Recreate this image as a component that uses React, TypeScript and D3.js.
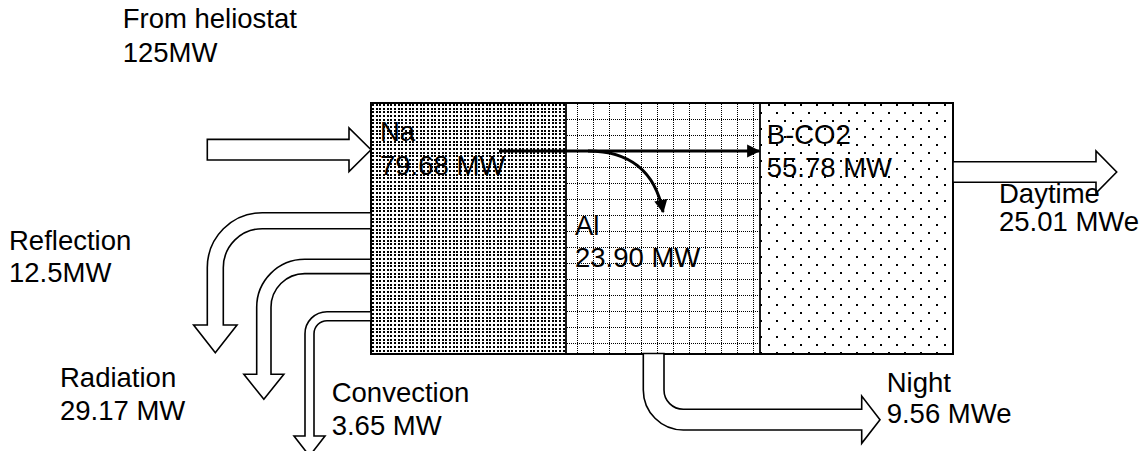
import React from "react";
import * as d3 from "d3";

// ---- data ----
const flowNames = ["From heliostat", "Reflection", "Radiation", "Convection", "Daytime", "Night"];
const flowValues = ["125MW", "12.5MW", "29.17 MW", "3.65 MW", "25.01 MWe", "9.56 MWe"];
const stageNames = ["Na", "B-CO2", "Al"];
const stageValues = ["79.68 MW", "55.78 MW", "23.90 MW"];

const W = 1141;
const H = 451;
const FONT = "'Liberation Sans', Arial, Helvetica, sans-serif";
const FS = 27.5;

// layout
const box = { x0: 371, x1: 953, y0: 103, y1: 354, d1: 566, d2: 760 };

function blockArrowRight(x0: number, x1: number, cy: number, sw: number, hx: number, hh: number) {
  const p = d3.path();
  p.moveTo(x0, cy - sw / 2);
  p.lineTo(hx, cy - sw / 2);
  p.lineTo(hx, cy - hh / 2);
  p.lineTo(x1, cy);
  p.lineTo(hx, cy + hh / 2);
  p.lineTo(hx, cy + sw / 2);
  p.lineTo(x0, cy + sw / 2);
  p.closePath();
  return p.toString();
}

// bend: horizontal from box left, curving down
function bendDown(bx: number, yTop: number, xo: number, w: number, R: number, ys: number, hw: number, yt: number) {
  const xc = xo + w / 2;
  return [
    `M${bx},${yTop}`,
    `L${xo + R},${yTop}`,
    `A${R},${R} 0 0 0 ${xo},${yTop + R}`,
    `L${xo},${ys}`,
    `L${xc - hw},${ys}`,
    `L${xc},${yt}`,
    `L${xc + hw},${ys}`,
    `L${xo + w},${ys}`,
    `L${xo + w},${yTop + R}`,
    `A${R - w},${R - w} 0 0 1 ${xo + R},${yTop + w}`,
    `L${bx},${yTop + w}`,
    "Z",
  ].join(" ");
}

function bendRight(yb: number, xl: number, w: number, R: number, yBottom: number, hx: number, hh: number, tipX: number) {
  const cx = xl + R;
  const cy = yBottom - R;
  const cyc = yBottom - w / 2;
  return [
    `M${xl},${yb}`,
    `L${xl},${cy}`,
    `A${R},${R} 0 0 0 ${cx},${yBottom}`,
    `L${hx},${yBottom}`,
    `L${hx},${cyc + hh / 2}`,
    `L${tipX},${cyc}`,
    `L${hx},${cyc - hh / 2}`,
    `L${hx},${yBottom - w}`,
    `L${cx},${yBottom - w}`,
    `A${R - w},${R - w} 0 0 1 ${xl + w},${cy}`,
    `L${xl + w},${yb}`,
    "Z",
  ].join(" ");
}

function Label({ x, y, lines }: { x: number; y: number[]; lines: string[] }) {
  return (
    <g>
      {lines.map((t, i) => (
        <text key={i} x={x} y={y[i]} fontFamily={FONT} fontSize={FS} fill="#000">
          {t}
        </text>
      ))}
    </g>
  );
}

export default function App() {
  const gx = d3.range(0, 16, 2);
  const naDots = [0, 4, 7];
  const curve = d3.path();
  curve.moveTo(588, 151);
  curve.bezierCurveTo(628, 151, 655, 170, 663, 212);

  return (
    <svg width={W} height={H} style={{ position: "absolute", left: 0, top: 0, background: "#fff" }}>
      <defs>
        <pattern id="pNa" patternUnits="userSpaceOnUse" x={372} y={104} width={11} height={11}>
          {naDots.map((a) =>
            naDots.map((b) => (
              <rect key={a + "-" + b} x={a} y={b} width={2} height={2} fill="#000" shapeRendering="crispEdges" />
            ))
          )}
        </pattern>
        <pattern id="pAl" patternUnits="userSpaceOnUse" x={577} y={103} width={16} height={16}>
          {gx.map((v, i) => (
            <rect key={"h" + i} x={v} y={0} width={1} height={1} fill="#000" shapeRendering="crispEdges" />
          ))}
          {gx.map((v, i) => (
            <rect key={"v" + i} x={0} y={v + 1} width={1} height={1} fill="#000" shapeRendering="crispEdges" />
          ))}
        </pattern>
        <pattern id="pCO2" patternUnits="userSpaceOnUse" x={944} y={136} width={16} height={16}>
          <rect x={0} y={0} width={2} height={2} fill="#000" shapeRendering="crispEdges" />
          <rect x={8} y={8} width={2} height={2} fill="#000" shapeRendering="crispEdges" />
        </pattern>
        <marker id="ah" viewBox="0 0 10 10" refX={9} refY={5} markerWidth={5.2} markerHeight={4.4} orient="auto" markerUnits="strokeWidth">
          <path d="M0,0 L10,5 L0,10 Z" fill="#000" />
        </marker>
      </defs>

      {/* stage regions */}
      <rect x={box.x0} y={box.y0} width={box.d1 - box.x0} height={box.y1 - box.y0} fill="url(#pNa)" />
      <rect x={box.d1} y={box.y0} width={box.d2 - box.d1} height={box.y1 - box.y0} fill="url(#pAl)" />
      <rect x={box.d2} y={box.y0} width={box.x1 - box.d2} height={box.y1 - box.y0} fill="url(#pCO2)" />
      <rect x={box.x0} y={box.y0} width={box.x1 - box.x0} height={box.y1 - box.y0} fill="none" stroke="#000" strokeWidth={2} />
      <line x1={box.d1} x2={box.d1} y1={box.y0} y2={box.y1} stroke="#000" strokeWidth={1.8} />
      <line x1={box.d2} x2={box.d2} y1={box.y0} y2={box.y1} stroke="#000" strokeWidth={1.8} />

      {/* block arrows */}
      <g fill="#fff" stroke="#000" strokeWidth={1.6} strokeLinejoin="miter">
        <path d={blockArrowRight(207.3, 371, 149.7, 20.7, 349, 43.7)} />
        <path d={blockArrowRight(953, 1116.7, 172, 20.6, 1096, 42)} />
        <path d={bendDown(371, 212.7, 207.3, 16, 55, 325, 21.7, 352.7)} />
        <path d={bendDown(371, 259.3, 256.7, 14.3, 48, 374.3, 20, 399.3)} />
        <path d={bendDown(371, 311.7, 305, 9, 22, 436, 15.5, 456)} />
        <path d={bendRight(353.5, 643.3, 20.7, 40, 430, 861.7, 47.3, 880)} />
      </g>

      {/* internal flow arrows */}
      <line x1={499} y1={151} x2={759} y2={151} stroke="#000" strokeWidth={3} markerEnd="url(#ah)" />
      <path d={curve.toString()} fill="none" stroke="#000" strokeWidth={3} markerEnd="url(#ah)" />

      {/* labels */}
      <Label x={122.7} y={[28, 61.7]} lines={[flowNames[0], flowValues[0]]} />
      <Label x={9} y={[250, 281.7]} lines={[flowNames[1], flowValues[1]]} />
      <Label x={60} y={[386.7, 420]} lines={[flowNames[2], flowValues[2]]} />
      <Label x={331.7} y={[401.7, 435]} lines={[flowNames[3], flowValues[3]]} />
      <Label x={999} y={[203, 231]} lines={[flowNames[4], flowValues[4]]} />
      <Label x={886.7} y={[391.7, 423.3]} lines={[flowNames[5], flowValues[5]]} />
      <Label x={380} y={[140.7, 175]} lines={[stageNames[0], stageValues[0]]} />
      <Label x={766.7} y={[144.3, 177.3]} lines={[stageNames[1], stageValues[1]]} />
      <Label x={575} y={[235, 266.7]} lines={[stageNames[2], stageValues[2]]} />
    </svg>
  );
}
